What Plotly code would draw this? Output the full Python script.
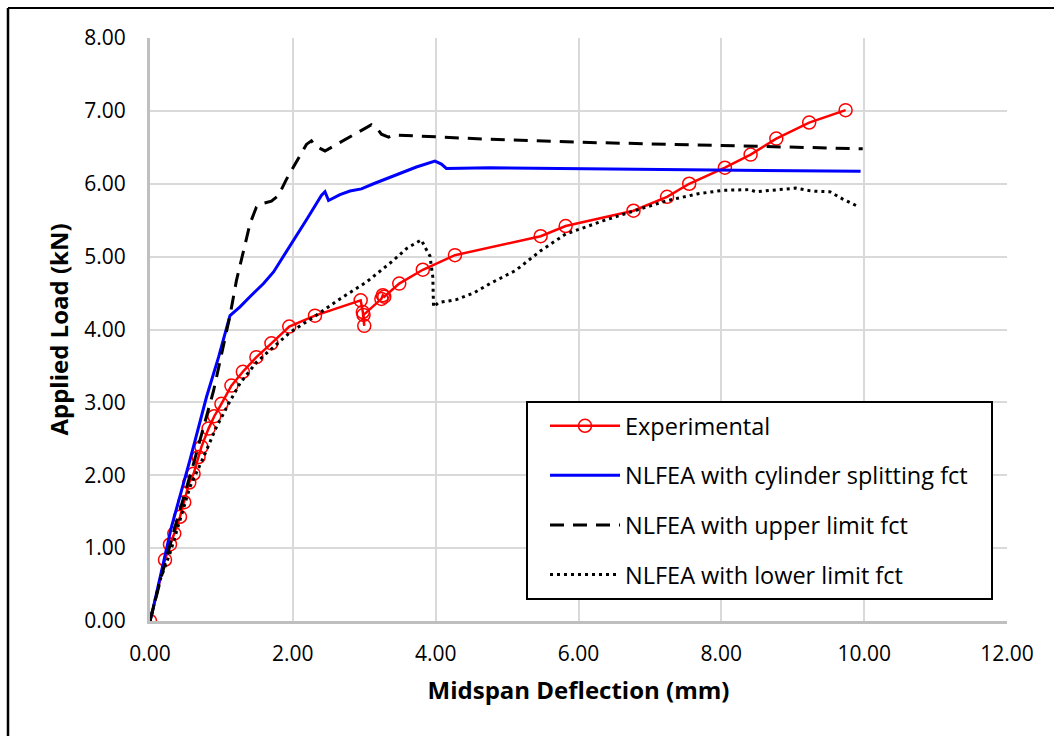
import plotly.graph_objects as go

# ---------------- data ----------------
exp_x = [0, 0.21, 0.28, 0.34, 0.42, 0.48, 0.55, 0.61, 0.68, 0.72, 0.82, 0.90, 1.00, 1.14, 1.30,
         1.49, 1.70, 1.95, 2.31, 2.95, 2.98, 3.00, 2.99, 3.24, 3.26, 3.28, 3.49, 3.82, 4.27, 5.47,
         5.82, 6.77, 7.24, 7.55, 8.05, 8.41, 8.77, 9.23, 9.74]
exp_y = [0, 0.84, 1.05, 1.20, 1.43, 1.63, 1.90, 2.02, 2.25, 2.39, 2.64, 2.81, 2.98, 3.23, 3.42,
         3.62, 3.81, 4.04, 4.19, 4.40, 4.24, 4.05, 4.20, 4.42, 4.47, 4.45, 4.63, 4.82, 5.02, 5.28,
         5.42, 5.63, 5.82, 6.00, 6.22, 6.40, 6.62, 6.84, 7.01]

cyl_x = [0, 0.05, 0.30, 0.56, 0.79, 0.96, 1.12, 1.26, 1.42, 1.59, 1.73, 2.01, 2.20, 2.40, 2.45,
         2.50, 2.66, 2.80, 2.96, 3.13, 3.41, 3.73, 3.99, 4.08, 4.15, 4.76, 9.95]
cyl_y = [0, 0.20, 1.29, 2.21, 3.07, 3.62, 4.19, 4.31, 4.47, 4.63, 4.79, 5.22, 5.52, 5.84, 5.89,
         5.77, 5.85, 5.90, 5.93, 6.00, 6.11, 6.23, 6.31, 6.27, 6.21, 6.22, 6.17]

up_x = [0, 0.16, 0.35, 0.61, 0.89, 1.12, 1.21, 1.31, 1.40, 1.49, 1.54, 1.70, 1.80, 1.91, 2.05,
        2.19, 2.26, 2.31, 2.45, 2.75, 3.03, 3.10, 3.17, 3.24, 3.34, 3.41, 4.76, 6.00, 8.02, 9.98]
up_y = [0, 0.61, 1.29, 2.16, 3.16, 4.19, 4.67, 5.08, 5.45, 5.68, 5.72, 5.76, 5.84, 6.06, 6.29,
        6.54, 6.59, 6.52, 6.45, 6.61, 6.77, 6.81, 6.77, 6.68, 6.64, 6.67, 6.61, 6.57, 6.52, 6.48]

low_x = [0, 0.14, 0.28, 0.42, 0.56, 0.75, 0.93, 1.10, 1.26, 1.49, 1.73, 1.96, 2.29, 2.66, 3.03,
         3.41, 3.59, 3.80, 3.85, 3.92, 3.96, 3.97, 4.04, 4.29, 4.53, 4.76, 5.12, 5.47, 5.82, 6.34,
         6.85, 7.25, 7.66, 8.02, 8.40, 8.48, 9.04, 9.26, 9.52, 9.70, 9.93]
low_y = [0, 0.56, 0.93, 1.38, 1.84, 2.25, 2.66, 2.98, 3.26, 3.55, 3.76, 3.96, 4.17, 4.42, 4.65,
         4.95, 5.11, 5.23, 5.13, 5.01, 4.72, 4.31, 4.37, 4.41, 4.50, 4.63, 4.81, 5.08, 5.31, 5.49,
         5.65, 5.77, 5.86, 5.91, 5.92, 5.89, 5.94, 5.90, 5.89, 5.79, 5.68]

x_ticks = [0, 2, 4, 6, 8, 10, 12]
y_ticks = [0, 1, 2, 3, 4, 5, 6, 7, 8]

# ---------------- layout constants ----------------
W, H = 1054, 736
ML, MR, MT, MB = 150, 47, 38, 115
PW, PH = W - ML - MR, H - MT - MB
FONT = "Open Sans"


def px2paper_x(px):
    return (px - ML) / PW


def px2paper_y(py):
    return (H - MB - py) / PH


fig = go.Figure()
fig.add_trace(go.Scatter(x=exp_x, y=exp_y, mode="lines+markers", name="Experimental",
                         legendgroup="a",
                         line=dict(color="#ff0000", width=2.5),
                         marker=dict(symbol="circle-open", size=13, color="#ff0000",
                                     line=dict(width=1.5, color="#ff0000"))))
fig.add_trace(go.Scatter(x=cyl_x, y=cyl_y, mode="lines", name="NLFEA with cylinder splitting fct",
                         legendgroup="b",
                         line=dict(color="#0000ff", width=3)))
fig.add_trace(go.Scatter(x=up_x, y=up_y, mode="lines", name="NLFEA with upper limit fct",
                         legendgroup="c",
                         line=dict(color="#000000", width=3, dash="14px,9px")))
fig.add_trace(go.Scatter(x=low_x, y=low_y, mode="lines", name="NLFEA with lower limit fct",
                         legendgroup="d",
                         line=dict(color="#000000", width=3, dash="3px,4px")))

axis_common = dict(showgrid=True, gridcolor="#d9d9d9", gridwidth=2,
                   showline=True, linecolor="#bfbfbf", linewidth=3,
                   zeroline=False, ticks="", tickformat=".2f",
                   tickfont=dict(family=FONT, size=21, color="#000000"))

fig.update_xaxes(range=[0, 12], tickvals=x_ticks, ticklabelstandoff=12,
                 title=dict(text="<b>Midspan Deflection (mm)</b>", standoff=16,
                            font=dict(family=FONT, size=24, color="#000000")),
                 **axis_common)
fig.update_yaxes(range=[0, 8], tickvals=y_ticks, ticklabelstandoff=17,
                 title=dict(text="<b>Applied Load (kN)</b>", standoff=9,
                            font=dict(family=FONT, size=24, color="#000000")),
                 **axis_common)

fig.update_layout(
    width=W, height=H,
    margin=dict(l=ML, r=MR, t=MT, b=MB, pad=0),
    paper_bgcolor="white", plot_bgcolor="white",
    showlegend=True,
    legend=dict(x=px2paper_x(545), y=px2paper_y(404), xanchor="left", yanchor="top",
                bgcolor="rgba(0,0,0,0)", borderwidth=0,
                font=dict(family=FONT, size=23.5, color="#000000"),
                traceorder="grouped", tracegroupgap=16, itemwidth=70),
    shapes=[
        # legend frame
        dict(type="rect", xref="paper", yref="paper", layer="above",
             x0=px2paper_x(527), x1=px2paper_x(992), y0=px2paper_y(402), y1=px2paper_y(599),
             fillcolor="white", line=dict(color="#000000", width=2)),
        # outer chart frame (top and left edges visible)
        dict(type="line", xref="paper", yref="paper",
             x0=px2paper_x(8), x1=px2paper_x(W), y0=px2paper_y(8), y1=px2paper_y(8),
             line=dict(color="#000000", width=2)),
        dict(type="line", xref="paper", yref="paper",
             x0=px2paper_x(8), x1=px2paper_x(8), y0=px2paper_y(8), y1=px2paper_y(H),
             line=dict(color="#000000", width=2.5)),
    ],
)

fig.write_html("out.html")
